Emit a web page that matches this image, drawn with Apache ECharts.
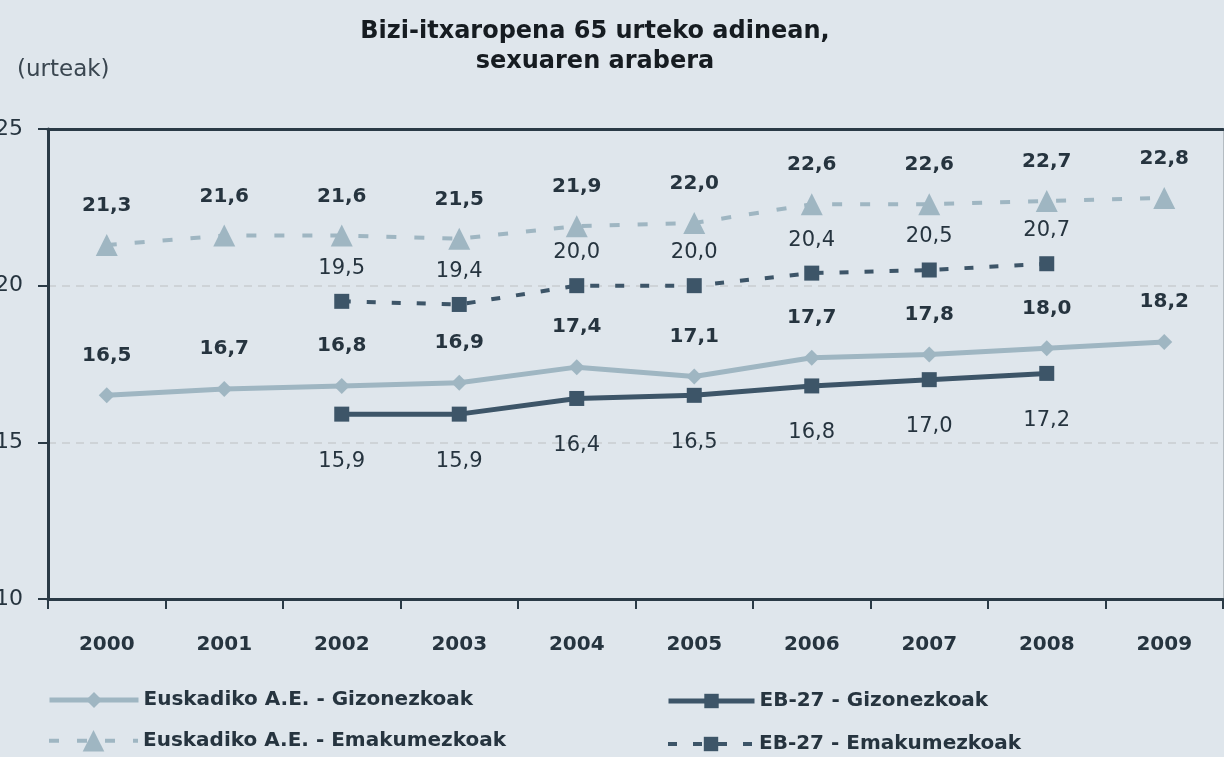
<!DOCTYPE html>
<html>
<head>
<meta charset="utf-8">
<script src="https://cdn.jsdelivr.net/npm/echarts@6/dist/echarts.min.js"></script>
<style>
  html, body { margin: 0; padding: 0; background: #dfe6ec; }
  #chart { width: 1224px; height: 757px; }
</style>
</head>
<body>
<div id="chart"></div>
<script>
// urteak
const years = ['2000', '2001', '2002', '2003', '2004', '2005', '2006', '2007', '2008', '2009']
// bizi-itxaropena 65 urtetan
const euskGizon = [16.5, 16.7, 16.8, 16.9, 17.4, 17.1, 17.7, 17.8, 18.0, 18.2]
const euskEmak = [21.3, 21.6, 21.6, 21.5, 21.9, 22.0, 22.6, 22.6, 22.7, 22.8]
const ebGizon = [null, null, 15.9, 15.9, 16.4, 16.5, 16.8, 17.0, 17.2, null]
const ebEmak = [null, null, 19.5, 19.4, 20.0, 20.0, 20.4, 20.5, 20.7, null]
const yTicks = [10, 15, 20, 25]

const names = ['Euskadiko A.E. - Gizonezkoak', 'Euskadiko A.E. - Emakumezkoak', 'EB-27 - Gizonezkoak', 'EB-27 - Emakumezkoak']

const light = '#9fb6c2'
const dark = '#3d5568'
const txt = '#26343f'
const axisCol = '#2a3a46'
const font = 'DejaVu Sans'

let comma = p => p.value == null ? '' : Number(p.value).toFixed(1).replace('.', ',')

// legenda bat elementu bakoitzeko
function legendItem (name, left, top, w, h, lw) {
  return {
    left: left,
    top: top,
    padding: 0,
    itemWidth: w,
    itemHeight: h,
    itemGap: 0,
    data: [name],
    lineStyle: { width: lw },
    textStyle: { fontSize: 20, fontWeight: 'bold', color: txt, fontFamily: font }
  }
}

let chart = echarts.init(document.getElementById('chart'))
chart.setOption({
  backgroundColor: '#dfe6ec',
  animation: false,
  textStyle: { fontFamily: font },
  title: [{
    text: 'Bizi-itxaropena 65 urteko adinean,\nsexuaren arabera',
    left: 590,
    top: 12,
    textAlign: 'center',
    textStyle: { fontSize: 24, fontWeight: 'bold', color: '#161c21', lineHeight: 30, fontFamily: font }
  }, {
    text: '(urteak)',
    left: 12,
    top: 54,
    textStyle: { fontSize: 23, fontWeight: 'normal', color: '#3a4650', fontFamily: font }
  }],
  grid: { left: 48, right: 1, top: 129, bottom: 158, outerBoundsMode: 'none', containLabel: false },
  xAxis: [{
    type: 'category',
    data: years,
    boundaryGap: true,
    axisLine: { lineStyle: { color: axisCol, width: 3 } },
    axisTick: { show: true, length: 10, inside: false, lineStyle: { color: axisCol, width: 2 } },
    axisLabel: { margin: 36, fontSize: 20, fontWeight: 'bold', color: txt, fontFamily: font },
    splitLine: { show: false }
  }, {
    type: 'category',
    data: years,
    position: 'top',
    axisLine: { lineStyle: { color: axisCol, width: 3 } },
    axisTick: { show: false },
    axisLabel: { show: false }
  }],
  yAxis: [{
    type: 'value',
    min: yTicks[0],
    max: yTicks[yTicks.length - 1],
    interval: 5,
    axisLine: { show: true, lineStyle: { color: axisCol, width: 3 } },
    axisTick: { show: true, length: 10, lineStyle: { color: axisCol, width: 2 } },
    axisLabel: { margin: 25, fontSize: 22, color: txt, fontFamily: font },
    splitLine: { show: true, lineStyle: { color: '#c9cdd0', type: [8, 6], width: 1.5 } }
  }, {
    type: 'value',
    position: 'right',
    min: yTicks[0],
    max: yTicks[yTicks.length - 1],
    interval: 5,
    axisLine: { show: true, lineStyle: { color: '#b4bcc2', width: 1 } },
    axisTick: { show: false },
    axisLabel: { show: false },
    splitLine: { show: false }
  }],
  legend: [
    legendItem(names[0], 47, 690, 89, 20, 5),
    legendItem(names[1], 47, 730, 89, 27, 4),
    legendItem(names[2], 666, 691, 86, 18, 5),
    legendItem(names[3], 666, 734, 86, 18, 4)
  ],
  series: [{
    name: names[0],
    type: 'line',
    data: euskGizon,
    symbol: 'diamond',
    symbolSize: 16,
    lineStyle: { color: light, width: 5 },
    itemStyle: { color: light },
    label: { show: true, position: 'top', distance: 22, formatter: comma, fontSize: 20, fontWeight: 'bold', color: txt, fontFamily: font }
  }, {
    name: names[1],
    type: 'line',
    data: euskEmak,
    symbol: 'triangle',
    symbolSize: 22,
    lineStyle: { color: light, width: 4, type: [10, 18] },
    itemStyle: { color: light },
    label: { show: true, position: 'top', distance: 18, formatter: comma, fontSize: 20, fontWeight: 'bold', color: txt, fontFamily: font }
  }, {
    name: names[2],
    type: 'line',
    data: ebGizon,
    symbol: 'rect',
    symbolSize: 15,
    lineStyle: { color: dark, width: 5 },
    itemStyle: { color: dark },
    label: { show: true, position: 'bottom', distance: 29, formatter: comma, fontSize: 21, fontWeight: 'normal', color: txt, fontFamily: font }
  }, {
    name: names[3],
    type: 'line',
    data: ebEmak,
    symbol: 'rect',
    symbolSize: 15,
    lineStyle: { color: dark, width: 4, type: [9, 16] },
    itemStyle: { color: dark },
    label: { show: true, position: 'top', distance: 15, formatter: comma, fontSize: 21, fontWeight: 'normal', color: txt, fontFamily: font }
  }]
})
</script>
</body>
</html>
